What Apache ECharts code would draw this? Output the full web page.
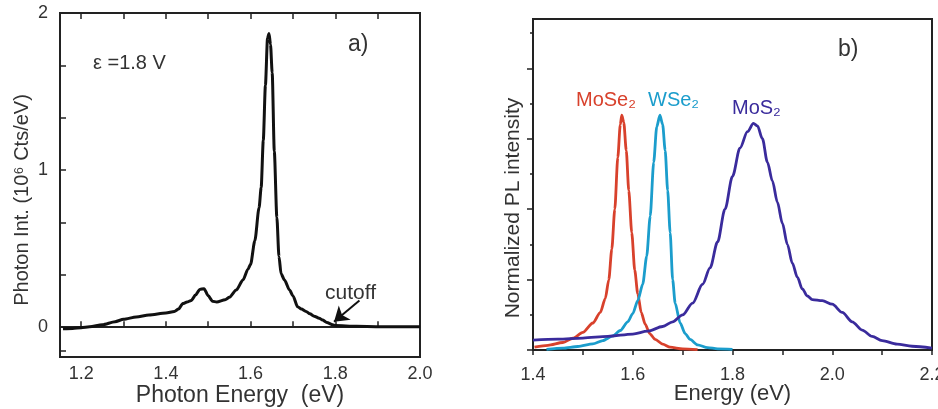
<!DOCTYPE html>
<html><head><meta charset="utf-8">
<script src="https://cdn.jsdelivr.net/npm/echarts@6/dist/echarts.min.js"></script>
<style>html,body{margin:0;padding:0;background:#fff}#c{width:938px;height:409px}</style>
</head><body><div id="c"></div>
<script>
// Panel a) : photon spectrum at 1.8 V
const aEnergy = [1.157,1.18,1.20,1.22,1.25,1.28,1.30,1.33,1.36,1.40,1.42,1.43,1.44,1.45,1.46,1.47,1.48,1.49,1.50,1.51,1.52,1.54,1.55,1.566,1.582,1.594,1.60,1.61,1.62,1.625,1.63,1.635,1.64,1.6435,1.647,1.651,1.656,1.662,1.667,1.672,1.68,1.692,1.70,1.711,1.72,1.731,1.74,1.75,1.762,1.77,1.78,1.794,1.80,1.85,1.90,2.00];
const aIntensity = [-0.01,-0.008,-0.004,0.002,0.015,0.035,0.05,0.065,0.078,0.09,0.10,0.115,0.15,0.16,0.17,0.205,0.24,0.245,0.2,0.165,0.16,0.175,0.19,0.236,0.30,0.37,0.40,0.55,0.76,0.89,1.19,1.54,1.84,1.87,1.8,1.62,1.12,0.70,0.45,0.34,0.30,0.236,0.2,0.13,0.115,0.10,0.085,0.07,0.057,0.045,0.03,0.015,0.011,0.005,0.003,0.002];
const aXTicks = [1.2,1.3,1.4,1.5,1.6,1.7,1.8,1.9];
const aXLabels = [1.2,1.4,1.6,1.8,2.0];
const aYTicks = [-0.15,0,1/3,2/3,1,4/3,5/3,2];
const aYLabels = [0,1,2];

// Panel b) : normalized PL spectra
const moSe2E = [1.403,1.43,1.46,1.48,1.50,1.52,1.535,1.545,1.552,1.558,1.564,1.570,1.575,1.578,1.582,1.587,1.592,1.598,1.604,1.61,1.617,1.625,1.634,1.645,1.66,1.675,1.70,1.73];
const moSe2I = [0.012,0.02,0.032,0.05,0.075,0.115,0.16,0.22,0.30,0.43,0.6,0.82,0.96,1.0,0.97,0.85,0.68,0.5,0.34,0.24,0.16,0.11,0.07,0.045,0.025,0.012,0.005,0.002];
const wSe2E = [1.427,1.46,1.49,1.52,1.54,1.56,1.575,1.59,1.60,1.61,1.62,1.628,1.635,1.642,1.648,1.6545,1.66,1.665,1.67,1.675,1.68,1.685,1.695,1.705,1.715,1.73,1.75,1.77,1.80];
const wSe2I = [0.003,0.008,0.015,0.026,0.04,0.06,0.083,0.12,0.155,0.21,0.28,0.40,0.57,0.80,0.95,1.0,0.96,0.85,0.68,0.50,0.30,0.2,0.115,0.07,0.045,0.022,0.01,0.005,0.003];
const moS2E = [1.40,1.45,1.50,1.55,1.60,1.63,1.66,1.68,1.70,1.72,1.74,1.755,1.77,1.785,1.80,1.815,1.83,1.842,1.85,1.86,1.87,1.88,1.89,1.90,1.91,1.92,1.93,1.94,1.95,1.96,1.98,2.00,2.02,2.04,2.06,2.08,2.10,2.13,2.16,2.20];
const moS2I = [0.042,0.046,0.051,0.058,0.068,0.08,0.10,0.12,0.15,0.2,0.28,0.35,0.46,0.6,0.74,0.86,0.93,0.965,0.955,0.9,0.8,0.72,0.63,0.54,0.45,0.37,0.31,0.26,0.23,0.215,0.21,0.195,0.16,0.12,0.085,0.058,0.04,0.025,0.016,0.008];
const bXLabels = [1.4,1.6,1.8,2.0,2.2];
const bYMajor = [0,0.3,0.6,0.9,1.2];
const bYMinor = [0.15,0.45,0.75,1.05,1.35];

const zip = (xs, ys) => xs.map((x, i) => [x, ys[i]]);
const FONT = 'Liberation Sans, Arial, sans-serif';
const TXT = '#333';

const chart = echarts.init(document.getElementById('c'), null, {renderer: 'canvas'});
const fmt = v => v.toFixed(1);

const option = {
  animation: false,
  backgroundColor: '#fff',
  textStyle: {fontFamily: FONT},
  grid: [
    {left: 60, top: 13, width: 360, height: 344, outerBoundsMode: 'none', containLabel: false, show: true, borderColor: '#222', borderWidth: 2, backgroundColor: 'transparent'},
    {left: 533, top: 19, width: 399, height: 331, outerBoundsMode: 'none', containLabel: false, show: true, borderColor: '#222', borderWidth: 2, backgroundColor: 'transparent'}
  ],
  xAxis: [
    {type: 'value', gridIndex: 0, min: 1.15, max: 2.0, position: 'bottom',
     axisLine: {show: true, lineStyle: {color: '#222', width: 2}},
     axisTick: {show: true, inside: true, length: 6, customValues: aXTicks, lineStyle: {color: '#222', width: 1.5}},
     axisLabel: {customValues: aXLabels, formatter: fmt, fontSize: 18, color: TXT, margin: 8, fontFamily: FONT},
     splitLine: {show: false},
     name: 'Photon Energy  (eV)', nameLocation: 'middle', nameGap: 27, nameMoveOverlap: false,
     nameTextStyle: {fontSize: 23, color: TXT, fontFamily: FONT}},
    {type: 'value', gridIndex: 0, min: 1.15, max: 2.0, position: 'top',
     axisLine: {show: false},
     axisTick: {show: true, inside: true, length: 6, customValues: aXTicks, lineStyle: {color: '#222', width: 1.5}},
     axisLabel: {show: false}, splitLine: {show: false}},
    {type: 'value', gridIndex: 1, min: 1.4, max: 2.2, interval: 0.2, position: 'bottom',
     axisLine: {show: true, lineStyle: {color: '#222', width: 2}},
     axisTick: {show: true, inside: false, length: 5, lineStyle: {color: '#222', width: 1.5}},
     minorTick: {show: true, splitNumber: 2, length: 5, lineStyle: {color: '#222', width: 1.5}},
     axisLabel: {customValues: bXLabels, formatter: fmt, fontSize: 18, color: TXT, margin: 16, fontFamily: FONT, showMaxLabel: true},
     splitLine: {show: false}, minorSplitLine: {show: false},
     name: 'Energy (eV)', nameLocation: 'middle', nameGap: 33, nameMoveOverlap: false,
     nameTextStyle: {fontSize: 22, color: TXT, fontFamily: FONT}}
  ],
  yAxis: [
    {type: 'value', gridIndex: 0, min: -0.19, max: 2,
     axisLine: {show: true, lineStyle: {color: '#222', width: 2}},
     axisTick: {show: true, inside: true, length: 6, customValues: aYTicks, lineStyle: {color: '#222', width: 1.5}},
     axisLabel: {customValues: aYLabels, fontSize: 18, color: TXT, margin: 12, fontFamily: FONT},
     splitLine: {show: false}},
    {type: 'value', gridIndex: 1, min: 0, max: 1.41,
     axisLine: {show: true, lineStyle: {color: '#222', width: 2}},
     axisTick: {show: true, inside: false, length: 6, customValues: bYMajor, lineStyle: {color: '#222', width: 1.5}},
     axisLabel: {show: false}, splitLine: {show: false}},
    {type: 'value', gridIndex: 1, min: 0, max: 1.41, position: 'left',
     axisLine: {show: false},
     axisTick: {show: true, inside: false, length: 3, customValues: bYMinor, lineStyle: {color: '#222', width: 1.5}},
     axisLabel: {show: false}, splitLine: {show: false}}
  ],
  series: [
    {type: 'line', xAxisIndex: 0, yAxisIndex: 0, data: zip(aEnergy, aIntensity),
     showSymbol: false, smooth: 0.25, smoothMonotone: 'x',
     lineStyle: {color: '#111', width: 3}, z: 5,
     markLine: {silent: true, symbol: ['none', 'arrow'], symbolSize: 14, z: 6,
       lineStyle: {color: '#111', width: 2, type: 'solid'}, label: {show: false},
       data: [[{coord: [1.857, 0.17]}, {coord: [1.797, 0.035]}]]}},
    {type: 'line', xAxisIndex: 2, yAxisIndex: 1, data: zip(moSe2E, moSe2I),
     showSymbol: false, smooth: 0.25, smoothMonotone: 'x', lineStyle: {color: '#d8412c', width: 2.8}},
    {type: 'line', xAxisIndex: 2, yAxisIndex: 1, data: zip(wSe2E, wSe2I),
     showSymbol: false, smooth: 0.25, smoothMonotone: 'x', lineStyle: {color: '#1b9dcc', width: 2.8}},
    {type: 'line', xAxisIndex: 2, yAxisIndex: 1, data: zip(moS2E, moS2I),
     showSymbol: false, smooth: 0.3, smoothMonotone: 'x', lineStyle: {color: '#3a2b9c', width: 2.8}}
  ],
  graphic: [
    {type: 'text', x: 22, y: 200, rotation: Math.PI / 2, style: {text: 'Photon Int. (10⁶ Cts/eV)', fontSize: 20, fontFamily: FONT, fill: TXT, align: 'center', verticalAlign: 'middle'}},
    {type: 'text', x: 513, y: 208, rotation: Math.PI / 2, style: {text: 'Normalized PL intensity', fontSize: 21, fontFamily: FONT, fill: TXT, align: 'center', verticalAlign: 'middle'}},
    {type: 'text', x: 93, y: 63, style: {text: 'ε =1.8 V', fontSize: 20, fontFamily: FONT, fill: TXT, verticalAlign: 'middle'}},
    {type: 'text', x: 348, y: 45, style: {text: 'a)', fontSize: 23, fontFamily: FONT, fill: TXT, verticalAlign: 'middle'}},
    {type: 'text', x: 325, y: 293, style: {text: 'cutoff', fontSize: 21, fontFamily: FONT, fill: TXT, verticalAlign: 'middle'}},
    {type: 'text', x: 838, y: 50, style: {text: 'b)', fontSize: 23, fontFamily: FONT, fill: TXT, verticalAlign: 'middle'}},
    {type: 'text', x: 576, y: 100, style: {text: 'MoSe₂', fontSize: 20, fontFamily: FONT, fill: '#d8412c', verticalAlign: 'middle'}},
    {type: 'text', x: 648, y: 100, style: {text: 'WSe₂', fontSize: 20, fontFamily: FONT, fill: '#1b9dcc', verticalAlign: 'middle'}},
    {type: 'text', x: 732, y: 108, style: {text: 'MoS₂', fontSize: 20, fontFamily: FONT, fill: '#3a2b9c', verticalAlign: 'middle'}}
  ]
};
chart.setOption(option);
</script></body></html>
